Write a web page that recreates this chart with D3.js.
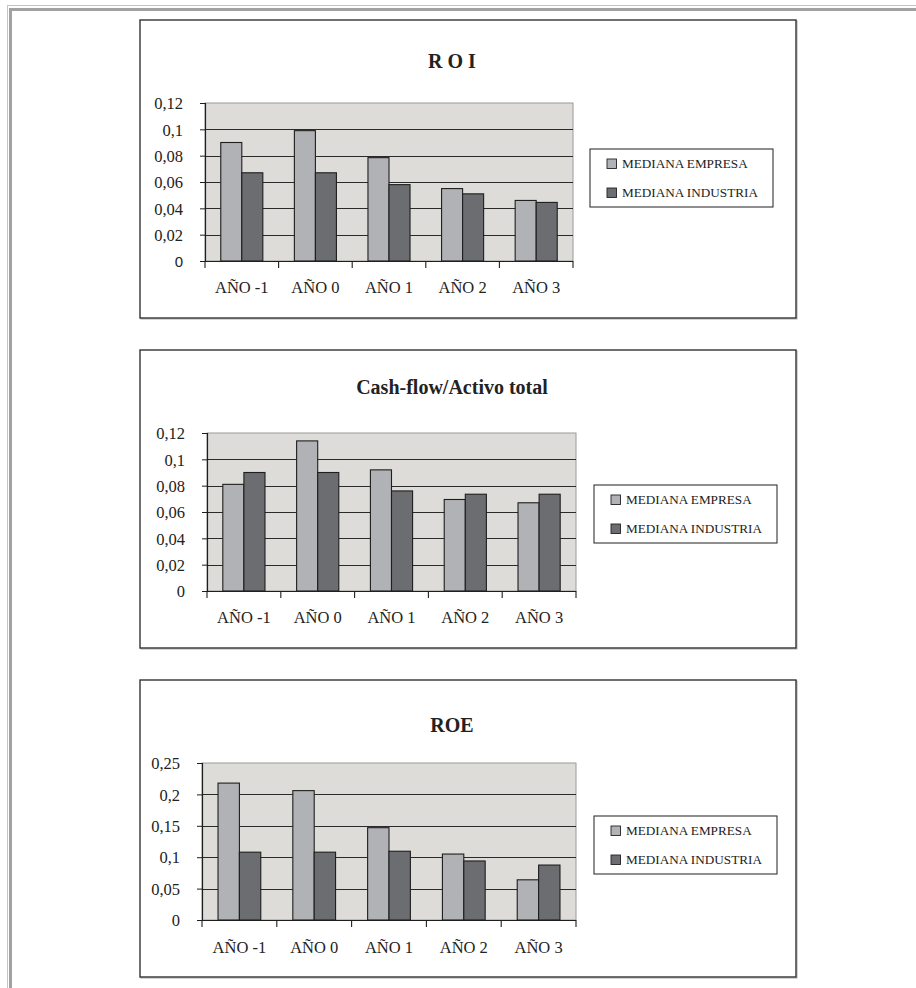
<!DOCTYPE html>
<html><head><meta charset="utf-8">
<script src="https://cdn.jsdelivr.net/npm/d3@7"></script>
<style>
html,body{margin:0;padding:0;background:#fff;}
svg{display:block;}
</style></head>
<body>
<script>
// ---- DATA ----
const categories = ["AÑO -1", "AÑO 0", "AÑO 1", "AÑO 2", "AÑO 3"];
const seriesNames = ["MEDIANA EMPRESA", "MEDIANA INDUSTRIA"];

const roiEmpresa   = [0.090, 0.099, 0.0785, 0.055, 0.046];
const roiIndustria = [0.067, 0.067, 0.058, 0.051, 0.0445];

const cfEmpresa   = [0.081, 0.114, 0.092, 0.0695, 0.067];
const cfIndustria = [0.090, 0.090, 0.076, 0.0735, 0.0735];

const roeEmpresa   = [0.218, 0.206, 0.147, 0.105, 0.064];
const roeIndustria = [0.108, 0.108, 0.1095, 0.094, 0.0875];

const ticks012 = [0, 0.02, 0.04, 0.06, 0.08, 0.1, 0.12];
const tickLabels012 = ["0", "0,02", "0,04", "0,06", "0,08", "0,1", "0,12"];
const ticks025 = [0, 0.05, 0.1, 0.15, 0.2, 0.25];
const tickLabels025 = ["0", "0,05", "0,1", "0,15", "0,2", "0,25"];

const titles = ["R O I", "Cash-flow/Activo total", "ROE"];

// ---- LAYOUT ----
const W = 916, H = 988;
const serif = "'Liberation Serif','Times New Roman',serif";
const colors = ["#b1b2b6", "#6c6d71"];

const svg = d3.select("body").append("svg").attr("width", W).attr("height", H);

// outer page frame
svg.append("rect").attr("x", 7).attr("y", 5).attr("width", 1).attr("height", H).attr("fill", "#c4c4c4");
svg.append("rect").attr("x", 7).attr("y", 5).attr("width", W).attr("height", 1).attr("fill", "#c4c4c4");
svg.append("rect").attr("x", 9).attr("y", 8).attr("width", 3).attr("height", H).attr("fill", "#a2a2a2");
svg.append("rect").attr("x", 9).attr("y", 8).attr("width", W).attr("height", 3).attr("fill", "#a2a2a2");

const charts = [
  { title: titles[0], data: [roiEmpresa, roiIndustria], ticks: ticks012, labels: tickLabels012, max: 0.12,
    box: [140, 20, 796, 318], plot: [205, 103, 573, 261], titleY: 68, xLabY: 293, legend: [590, 149], zeroSans: true },
  { title: titles[1], data: [cfEmpresa, cfIndustria], ticks: ticks012, labels: tickLabels012, max: 0.12,
    box: [140, 350, 796, 648], plot: [207, 433, 576, 591], titleY: 394, xLabY: 623, legend: [594, 485] },
  { title: titles[2], data: [roeEmpresa, roeIndustria], ticks: ticks025, labels: tickLabels025, max: 0.25,
    box: [140, 680, 796, 977], plot: [202, 763, 576, 920], titleY: 732, xLabY: 953, legend: [594, 816] }
];

charts.forEach(c => {
  const g = svg.append("g");
  const [bx0, by0, bx1, by1] = c.box;
  // chart box
  g.append("rect").attr("x", bx0 + 1).attr("y", by0 + 1).attr("width", bx1 - bx0).attr("height", by1 - by0)
    .attr("fill", "none").attr("stroke", "#aaa").attr("stroke-width", 1);
  g.append("rect").attr("x", bx0).attr("y", by0).attr("width", bx1 - bx0).attr("height", by1 - by0)
    .attr("fill", "#fff").attr("stroke", "#333").attr("stroke-width", 1.4);

  const [pl, pt, pr, pb] = c.plot;
  const x = d3.scaleBand().domain(categories).range([pl, pr]).paddingInner(0).paddingOuter(0);
  const y = d3.scaleLinear().domain([0, c.max]).range([pb, pt]);
  const xs = d3.scaleBand().domain(seriesNames).range([0, x.bandwidth()]).paddingInner(0).paddingOuter(0.75);

  // title
  g.append("text").attr("x", 452).attr("y", c.titleY).attr("text-anchor", "middle")
    .attr("font-family", serif).attr("font-weight", "bold").attr("font-size", 20)
    .attr("fill", "#222").text(c.title);

  // plot background
  g.append("rect").attr("x", pl).attr("y", pt).attr("width", pr - pl).attr("height", pb - pt)
    .attr("fill", "#dedcd9").attr("stroke", "#9a9a9a").attr("stroke-width", 1);

  // gridlines
  g.append("g").selectAll("line").data(c.ticks.filter(t => t > 0 && t < c.max)).join("line")
    .attr("x1", pl).attr("x2", pr)
    .attr("y1", d => Math.round(y(d)) + 0.5).attr("y2", d => Math.round(y(d)) + 0.5)
    .attr("stroke", "#2a2a2a").attr("stroke-width", 1.1);

  // bars
  c.data.forEach((series, si) => {
    g.append("g").selectAll("rect").data(series).join("rect")
      .attr("x", (d, i) => x(categories[i]) + xs(seriesNames[si]))
      .attr("y", d => y(d))
      .attr("width", xs.bandwidth())
      .attr("height", d => pb - y(d))
      .attr("fill", colors[si]).attr("stroke", "#1e1e1e").attr("stroke-width", 1.1);
  });

  // y axis
  const yAxis = d3.axisLeft(y).tickValues(c.ticks).tickSize(5).tickPadding(17)
    .tickFormat((d, i) => c.labels[i]);
  const ya = g.append("g").attr("transform", `translate(${pl},0)`).call(yAxis);
  ya.select(".domain").attr("stroke", "#1e1e1e").attr("stroke-width", 1.2);
  ya.selectAll(".tick line").attr("stroke", "#1e1e1e");
  ya.selectAll(".tick text").attr("font-family", serif).attr("font-size", 16.5).attr("fill", "#222")
    .attr("dy", "0.35em");
  if (c.zeroSans) {
    ya.selectAll(".tick text").filter(d => d === 0)
      .attr("font-family", "'Liberation Sans',Arial,sans-serif").attr("font-size", 15);
  }

  // x axis (ticks at band boundaries)
  const xa = g.append("g");
  xa.append("line").attr("x1", pl).attr("x2", pr).attr("y1", pb + 0.5).attr("y2", pb + 0.5)
    .attr("stroke", "#1e1e1e").attr("stroke-width", 1.2);
  const bounds = categories.map(cat => x(cat)).concat([pr]);
  xa.selectAll("line.tk").data(bounds).join("line").attr("class", "tk")
    .attr("x1", d => d).attr("x2", d => d).attr("y1", pb).attr("y2", pb + 7)
    .attr("stroke", "#1e1e1e").attr("stroke-width", 1.1);
  xa.selectAll("text").data(categories).join("text")
    .attr("x", d => x(d) + x.bandwidth() / 2).attr("y", c.xLabY)
    .attr("text-anchor", "middle").attr("font-family", serif).attr("font-size", 16.5).attr("fill", "#222")
    .text(d => d);

  // legend
  const [lx, ly] = c.legend;
  const lg = g.append("g").attr("transform", `translate(${lx},${ly})`);
  lg.append("rect").attr("x", 0).attr("y", 0).attr("width", 183).attr("height", 58)
    .attr("fill", "#fff").attr("stroke", "#333").attr("stroke-width", 1.1);
  seriesNames.forEach((name, i) => {
    lg.append("rect").attr("x", 17).attr("y", 10 + i * 29).attr("width", 9.5).attr("height", 9.5)
      .attr("fill", colors[i]).attr("stroke", "#222").attr("stroke-width", 0.9);
    lg.append("text").attr("x", 32).attr("y", 19 + i * 29)
      .attr("font-family", serif).attr("font-size", 13.2).attr("fill", "#222").text(name);
  });
});
</script>
</body></html>
